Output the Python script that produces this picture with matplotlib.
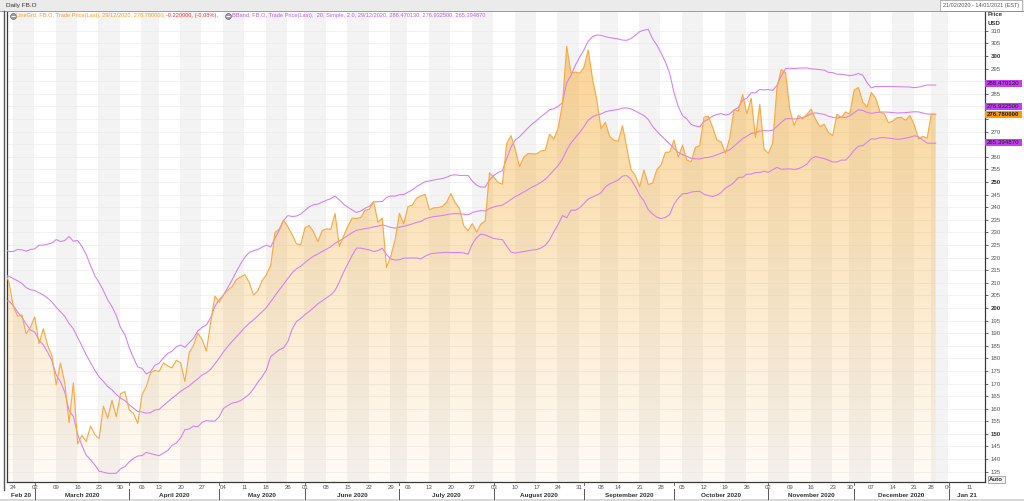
import numpy as np
import pandas as pd
import matplotlib
matplotlib.use('Agg')
import matplotlib.pyplot as plt
import matplotlib.transforms as mtransforms
from matplotlib.patches import Rectangle, Polygon
from matplotlib.lines import Line2D
from pandas.tseries.offsets import CustomBusinessDay

# ------------------------------------------------------------------ data
market_holidays = ['2020-02-17', '2020-04-10', '2020-05-25', '2020-07-03',
                   '2020-09-07', '2020-11-26', '2020-12-25', '2021-01-01']
history_start = '2020-01-23'      # closes before the visible window (feed the 20-day BBand)
view_origin = '2020-02-20'
calendar_end = '2021-01-15'

close_pre = [219.76, 217.94, 214.87, 217.79, 223.23, 209.53, 201.91, 204.19, 209.83, 210.11,
             210.85, 212.33, 213.06, 207.19, 210.76, 213.14, 214.18, 217.80, 217.49, 214.58]
close_feb = [210.18, 200.72, 196.77, 197.20, 189.75, 192.47]
close_mar = [196.44, 185.89, 191.76, 185.17, 181.09, 169.50, 178.19, 170.24, 154.47, 170.28,
             146.01, 149.42, 146.96, 153.13, 149.73, 148.10, 160.98, 156.21, 163.34, 156.79,
             165.95, 166.80]
close_apr = [159.60, 158.19, 154.18, 165.55, 168.83, 174.28, 175.19, 174.79, 178.17, 176.97,
             176.25, 179.24, 178.24, 170.80, 182.28, 185.13, 190.07, 187.50, 182.91, 194.19,
             204.71]
close_may = [202.27, 205.26, 207.07, 208.47, 211.26, 212.35, 213.18, 210.10, 205.10, 206.81,
             210.88, 213.19, 216.88, 229.97, 231.39, 234.91, 232.20, 229.14, 225.46, 225.09]
close_jun = [231.91, 232.72, 230.16, 226.29, 230.77, 231.40, 231.20, 237.50, 224.43, 228.58,
             232.50, 235.65, 235.53, 235.94, 238.79, 239.22, 242.24, 234.02, 235.68, 216.08,
             220.64, 227.07]
close_jul = [237.55, 233.42, 240.28, 240.86, 243.58, 244.50, 245.07, 239.00, 239.73, 239.87,
             240.28, 242.03, 245.42, 241.75, 239.50, 232.60, 230.71, 233.50, 230.12, 233.29,
             234.50, 253.67]
close_aug = [251.96, 249.83, 249.12, 265.28, 268.44, 263.00, 256.13, 259.89, 261.30, 261.24,
             261.16, 262.34, 262.59, 269.01, 267.01, 271.39, 280.82, 303.91, 293.22, 293.66,
             293.20]
close_sep = [295.44, 302.50, 291.12, 282.73, 271.16, 273.72, 268.09, 266.61, 266.15, 272.42,
             263.52, 254.82, 252.53, 248.15, 254.75, 249.02, 249.53, 254.82, 256.82, 261.79,
             261.90]
close_oct = [266.63, 259.94, 264.65, 258.66, 258.12, 263.76, 264.45, 275.75, 276.14, 271.82,
             266.72, 265.93, 261.40, 267.56, 278.73, 278.12, 284.79, 277.11, 283.29, 267.67,
             280.83, 263.11]
close_nov = [261.36, 265.30, 287.38, 294.68, 293.41, 278.77, 272.43, 276.48, 275.08, 276.95,
             278.90, 275.00, 271.97, 272.94, 269.70, 268.43, 276.92, 275.59, 277.81, 276.97]
close_dec = [286.55, 287.52, 281.85, 279.70, 285.58, 283.40, 277.92, 277.12, 273.55, 274.19,
             275.55, 275.67, 274.48, 276.40, 272.79, 267.09, 268.11, 267.40, 277.00, 276.78]

bb_period = 20
bb_mult = 2.0

y_ticks = list(range(135, 311, 5))
y_bold = [150, 200, 250, 300]

title_text = 'Daily FB.O'
range_text = '21/02/2020 - 14/01/2021 (EST)'
legend_line = 'LineGrd, FB.O, Trade Price(Last), 29/12/2020, 276.780000, '
legend_chg = '-0.220000, (-0.08%),'
legend_bb = 'BBand, FB.O, Trade Price(Last),  20, Simple, 2.0, 29/12/2020, 288.470130, 276.932500, 265.394870'
last_labels = ['288.470130', '276.932500', '276.780000', '265.394870']

# ------------------------------------------------------------------ styles
W, H = 1024, 501
FONT = 'Liberation Sans'
plt.rcParams['font.family'] = [FONT, 'DejaVu Sans']
C_LINE = '#f9a840'
C_FILL = (0.96, 0.65, 0.14)
C_BB = '#d77cf5'
C_BAND = '#f3f3f3'

fig = plt.figure(figsize=(W / 100, H / 100), dpi=100)
fig.patch.set_facecolor('white')


def fx(px):
    return px / W


def fy(py):
    return 1 - py / H


# ------------------------------------------------------------------ calendar
cbd = CustomBusinessDay(holidays=market_holidays)
cal = pd.date_range(history_start, calendar_end, freq=cbd)
origin = cal.get_loc(pd.Timestamp(view_origin))
xcal = np.arange(len(cal)) - origin

closes = np.array(close_pre + close_feb + close_mar + close_apr + close_may + close_jun +
                  close_jul + close_aug + close_sep + close_oct + close_nov + close_dec)
n = len(closes)
xc = xcal[:n]

s = pd.Series(closes)
mid = s.rolling(bb_period).mean().to_numpy()
sd = s.rolling(bb_period).std(ddof=0).to_numpy()
upper = mid + bb_mult * sd
lower = mid - bb_mult * sd

# ------------------------------------------------------------------ axes
L, R, T, B = 7, 985, 12, 482
ax = fig.add_axes([fx(L), 1 - B / H, (R - L) / W, (B - T) / H])
XL = (0.53, 228.5)
YL = (130.9, 317.5)
ax.set_xlim(*XL)
ax.set_ylim(*YL)
ax.set_facecolor('white')

# alternating week bands
week_key = (cal - pd.to_timedelta(cal.weekday, unit='D'))
wk = pd.Series(xcal, index=week_key).groupby(level=0).min()
wk_x = wk.to_numpy()
k0 = int(np.where(cal[wk_x + origin] == pd.Timestamp('2020-02-24'))[0][0])
for k in range(len(wk_x) - 1):
    if (k - k0) % 2 == 0:
        ax.axvspan(wk_x[k] - 0.15, wk_x[k + 1] - 0.15, color=C_BAND, lw=0, zorder=0.1)

ax.set_axisbelow(True)
ax.set_yticks(y_ticks)
ax.grid(axis='y', color='#ebebeb', lw=0.5)
ax.set_xticks([])

# gradient fill under price
sel = xc >= 0
px_, py_ = xc[sel], closes[sel]
verts = [(px_[0], YL[0])] + list(zip(px_, py_)) + [(px_[-1], YL[0])]
poly = Polygon(verts, closed=True, facecolor='none', edgecolor='none')
ax.add_patch(poly)
grad = np.zeros((256, 1, 4))
grad[..., 0], grad[..., 1], grad[..., 2] = C_FILL
grad[:, 0, 3] = np.linspace(0.52, 0.04, 256)
im = ax.imshow(grad, extent=(px_[0], px_[-1], YL[0], YL[1]), origin='upper',
               aspect='auto', zorder=1, interpolation='bilinear')
im.set_clip_path(poly)

valid = ~np.isnan(mid)
for band in (upper, mid, lower):
    ax.plot(xc[valid], band[valid], color=C_BB, lw=0.75, zorder=3)
ax.plot(px_, py_, color=C_LINE, lw=0.8, zorder=4)

# spines / y axis on right
ax.spines['top'].set_visible(False)
for sp in ('left', 'right', 'bottom'):
    ax.spines[sp].set_color('#3a3a3a')
    ax.spines[sp].set_linewidth(0.9)
ax.yaxis.tick_right()
ax.tick_params(axis='y', direction='out', length=2.5, width=0.6, pad=1.5,
               labelsize=4.4, colors='#555555')

# last value tags (positions from the data)
last_vals = [upper[-1], mid[-1], closes[-1], lower[-1]]
tag_colors = ['#c63cf2', '#c63cf2', '#ff9b00', '#c63cf2']
tag_shift_px = [-2, -7.5, 0, -1]
tag_px = [H - ax.transData.transform((0, v))[1] + sh for v, sh in zip(last_vals, tag_shift_px)]

for lab, v in zip(ax.get_yticklabels(), y_ticks):
    lab.set_fontfamily(FONT)
    if v in y_bold:
        lab.set_fontweight('bold')
        lab.set_color('#333333')
    vpx = H - ax.transData.transform((0, v))[1]
    if any(abs(vpx - t) < 5.6 for t in tag_px):
        lab.set_visible(False)

for lab, ypx, c in zip(last_labels, tag_px, tag_colors):
    fig.add_artist(Rectangle((fx(985), fy(ypx + 3.4)), fx(37), 6.8 / H, transform=fig.transFigure,
                             facecolor=c, edgecolor='none', zorder=5))
    fig.text(fx(986.5), fy(ypx), lab, fontsize=4.4, color='#1a1a1a', va='center', ha='left',
             zorder=6, fontweight='bold' if c == '#ff9b00' else 'normal')

# ------------------------------------------------------------------ x labels
tx = mtransforms.blended_transform_factory(ax.transData, fig.transFigure)
for xv in wk_x:
    if XL[0] <= xv <= XL[1]:
        d = cal[xv + origin]
        fig.text(xv, fy(487.5), d.strftime('%d'), transform=tx, ha='center', va='center',
                 fontsize=4.4, color='#555555')

month_first = pd.Series(xcal, index=cal.to_period('M')).groupby(level=0).min()
bounds = [xv for xv in month_first.to_numpy() if XL[0] < xv < XL[1]]
edges = [XL[0]] + bounds + [XL[1]]
for xv in bounds:
    fig.add_artist(Line2D([xv, xv], [fy(489), fy(499)], transform=tx, color='#555555', lw=0.7))
    fig.add_artist(Line2D([xv, xv], [fy(482), fy(485)], transform=tx, color='#555555', lw=0.6))
for a, b in zip(edges[:-1], edges[1:]):
    mid_x = (a + b) / 2
    d = cal[int(np.ceil(a)) + origin]
    if d.month == 2:
        lab = 'Feb 20'
    elif d.year == 2021:
        lab = 'Jan 21'
    else:
        lab = d.strftime('%B %Y')
    fig.text(mid_x, fy(495.5), lab, transform=tx, ha='center', va='center',
             fontsize=4.6, fontweight='bold', color='#333333')

# ------------------------------------------------------------------ header
fig.add_artist(Rectangle((0, fy(10.5)), 1, 10.5 / H, transform=fig.transFigure,
                         facecolor='#ebebeb', edgecolor='none', zorder=0))
fig.add_artist(Rectangle((fx(940), fy(10.5)), fx(82), 10.5 / H, transform=fig.transFigure,
                         facecolor='white', edgecolor='#a8a8a8', lw=0.6, zorder=1))
fig.text(fx(6), fy(5.5), title_text, fontsize=4.6, color='#333333', va='center', ha='left')
fig.text(fx(981), fy(5.5), range_text, fontsize=4.0, color='#555555', va='center', ha='center')
fig.add_artist(Line2D([0, 1], [fy(11), fy(11)], transform=fig.transFigure, color='#8a8a8a', lw=0.6))
fig.add_artist(Line2D([fx(3.5), fx(3.5)], [fy(11), fy(490)], transform=fig.transFigure,
                      color='#555555', lw=1.0))

for xi in (12.5, 227.5):
    fig.add_artist(Line2D([fx(xi)], [fy(15.5)], transform=fig.transFigure, marker='o', ms=4.2,
                          mfc='#9a9aa8', mec='#6a6a78', mew=0.5))
    fig.add_artist(Line2D([fx(xi)], [fy(15.5)], transform=fig.transFigure, marker='_', ms=2.4,
                          mec='white', mew=0.8))
fig.text(fx(16.5), fy(16), legend_line, fontsize=4.1, color='#f4a02a', va='center', ha='left')
fig.text(fx(166.5), fy(16), legend_chg, fontsize=4.1, color='#ff2b2b', va='center', ha='left')
fig.text(fx(232), fy(16), legend_bb, fontsize=4.1, color='#c45ae8', va='center', ha='left')

fig.text(fx(988), fy(15), 'Price', fontsize=4.4, fontweight='bold', color='#333333', va='center')
fig.text(fx(988), fy(23.5), 'USD', fontsize=4.4, fontweight='bold', color='#333333', va='center')

# Auto button and bottom strip
fig.add_artist(Rectangle((fx(987.5), fy(483)), fx(17), 7.5 / H, transform=fig.transFigure,
                         facecolor='#f4f4f4', edgecolor='#8a8a8a', lw=0.5))
fig.text(fx(996), fy(479.3), 'Auto', fontsize=4.4, fontweight='bold', color='#333333',
         va='center', ha='center')
fig.add_artist(Rectangle((0, 0), 1, 2.5 / H, transform=fig.transFigure,
                         facecolor='#d8d8d8', edgecolor='none'))

fig.savefig('out.png', dpi=100)
